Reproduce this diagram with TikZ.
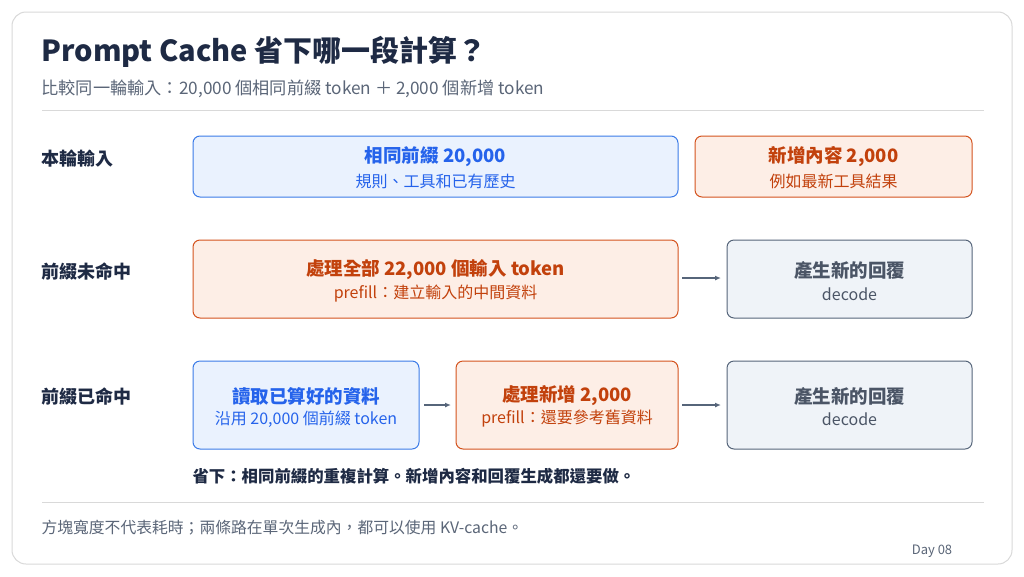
\documentclass[tikz,border=0pt]{standalone}
\usepackage{fontspec}
\usetikzlibrary{arrows.meta}
\setmainfont{Noto Sans CJK TC}
\begin{document}
\begin{tikzpicture}[x=1pt,y=-1pt,
  bx/.style={draw,rounded corners=7pt,line width=1pt},
  blue/.style={bx,draw=bB,fill=bF},
  ora/.style={bx,draw=oB,fill=oF},
  gry/.style={bx,draw=gB,fill=gF},
  h/.style={font=\fontsize{18.5}{20}\selectfont\bfseries,inner sep=0pt},
  s/.style={font=\fontsize{16}{18}\selectfont,inner sep=0pt},
  rowl/.style={anchor=west,font=\fontsize{18}{20}\selectfont\bfseries,text=tD},
  arr/.style={draw=gB,line width=1.2pt,-{Latex[length=6pt,width=5pt]}}]
\definecolor{bB}{HTML}{3B7BE8}\definecolor{bF}{HTML}{EAF2FE}\definecolor{bT}{HTML}{2563EB}
\definecolor{oB}{HTML}{D4531E}\definecolor{oF}{HTML}{FDEEE6}\definecolor{oT}{HTML}{C2410C}
\definecolor{gB}{HTML}{56657A}\definecolor{gF}{HTML}{EFF3F8}\definecolor{gT}{HTML}{4B5566}
\definecolor{tD}{HTML}{1E2A44}\definecolor{tM}{HTML}{5B6678}
\useasboundingbox (0,0) rectangle (1024,576);
\fill[white] (0,0) rectangle (1024,576);
\draw[draw=black!15,rounded corners=14pt,line width=1pt] (12,12) rectangle (1012,564);
\node[anchor=west,font=\fontsize{29}{32}\selectfont\bfseries,text=tD] (title) at (38,52) {Prompt Cache 省下哪一段計算？};
\node[anchor=west,font=\fontsize{17.2}{20}\selectfont,text=tM] (sub) at (38,89) {比較同一輪輸入：20,000 個相同前綴 token ＋ 2,000 個新增 token};
\draw[black!15,line width=0.8pt] (42,110) -- (984,110);
\draw[black!15,line width=0.8pt] (42,502) -- (984,502);
\node[rowl] (r1) at (38,159) {本輪輸入};
\node[rowl] (r2) at (38,272) {前綴未命中};
\node[rowl] (r3) at (38,397) {前綴已命中};
\draw[blue] (193,136) rectangle (678,197);
\node[h,text=bT] (a1) at (435.5,157) {相同前綴 20,000};
\node[s,text=bT] (a1s) at (435.5,181) {規則、工具和已有歷史};
\draw[ora] (695,136) rectangle (972,197);
\node[h,text=oT] (a2) at (833.5,157) {新增內容 2,000};
\node[s,text=oT] (a2s) at (833.5,181) {例如最新工具結果};
\draw[ora] (193,240) rectangle (678,318);
\node[h,text=oT] (b1) at (435.5,270) {處理全部 22,000 個輸入 token};
\node[s,text=oT] (b1s) at (435.5,294) {prefill：建立輸入的中間資料};
\draw[gry] (727,240) rectangle (972,318);
\node[h,text=gT] (b2) at (849.5,270) {產生新的回覆};
\node[s,text=gT] (b2s) at (849.5,294) {decode};
\draw[blue] (193,361) rectangle (419,449);
\node[h,text=bT] (c1) at (306,396) {讀取已算好的資料};
\node[s,text=bT] (c1s) at (306,419) {沿用 20,000 個前綴 token};
\draw[ora] (456,361) rectangle (678,449);
\node[h,text=oT] (c2) at (567,396) {處理新增 2,000};
\node[s,text=oT] (c2s) at (567,419) {prefill：還要參考舊資料};
\draw[gry] (727,361) rectangle (972,449);
\node[h,text=gT] (c3) at (849.5,396) {產生新的回覆};
\node[s,text=gT] (c3s) at (849.5,419) {decode};
\coordinate (p1) at (682,278); \coordinate (q1) at (721,278);
\coordinate (p2) at (424,405); \coordinate (q2) at (451,405);
\coordinate (p3) at (682,405); \coordinate (q3) at (721,405);
\draw[arr] (p1) -- (q1);
\draw[arr] (p2) -- (q2);
\draw[arr] (p3) -- (q3);
\node[anchor=west,font=\fontsize{16.4}{18}\selectfont\bfseries,text=tD] (save) at (189,476) {省下：相同前綴的重複計算。新增內容和回覆生成都還要做。};
\node[anchor=west,font=\fontsize{15.8}{18}\selectfont,text=tM] (foot) at (38,528) {方塊寬度不代表耗時；兩條路在單次生成內，都可以使用 KV-cache。};
\node[anchor=center,font=\fontsize{13}{14}\selectfont,text=tM] (day) at (932,551) {Day 08};
\end{tikzpicture}
\end{document}
